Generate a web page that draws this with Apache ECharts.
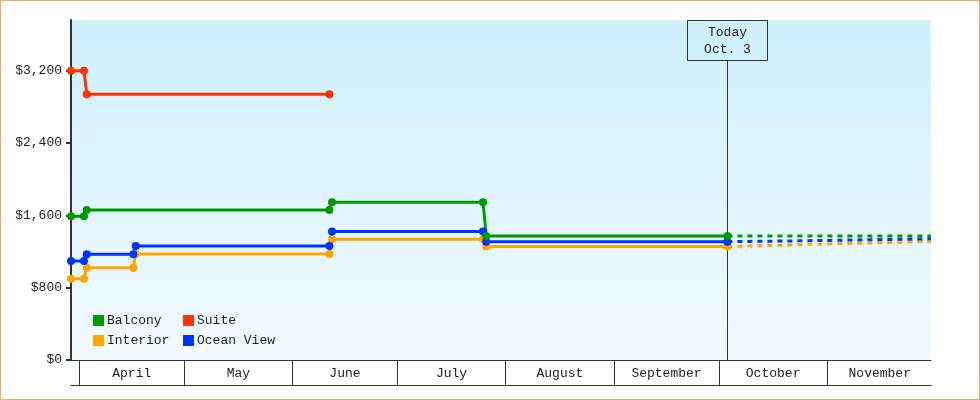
<!DOCTYPE html>
<html>
<head>
<meta charset="utf-8">
<script src="https://cdn.jsdelivr.net/npm/echarts@6/dist/echarts.min.js"></script>
<style>
  html, body { margin: 0; padding: 0; background: #ffffff; }
  #chart { width: 980px; height: 400px; }
</style>
</head>
<body>
<div id="chart"></div>
<script>
// ---------- data ----------
const monthLabels = ['April', 'May', 'June', 'July', 'August', 'September', 'October', 'November'];
const monthStartDates = ['2023-04-01', '2023-05-01', '2023-06-01', '2023-07-01', '2023-08-01', '2023-09-01', '2023-10-01', '2023-11-01', '2023-12-01'];
const axisStart = '2023-03-29 15:00';
const axisEnd = '2023-11-30 16:00';
const todayDate = '2023-10-03 10:00';
const todayLabel = 'Today\nOct. 3';

const yTicks = [0, 800, 1600, 2400, 3200];

const balconyDates = ['2023-03-29 15:00', '2023-04-02 08:00', '2023-04-03 03:00', '2023-06-11 13:00', '2023-06-12 07:00', '2023-07-25 12:00', '2023-07-26 10:00', '2023-10-03 10:00'];
const balconyValues = [1589, 1589, 1660, 1660, 1745, 1745, 1372, 1372];

const suiteDates = ['2023-03-29 15:00', '2023-04-02 08:00', '2023-04-03 03:00', '2023-06-11 13:00'];
const suiteValues = [3199, 3199, 2940, 2940];

const interiorDates = ['2023-03-29 15:00', '2023-04-02 08:00', '2023-04-03 03:00', '2023-04-16 11:00', '2023-04-17 03:00', '2023-06-11 13:00', '2023-06-12 07:00', '2023-07-25 12:00', '2023-07-26 10:00', '2023-10-03 10:00'];
const interiorValues = [899, 899, 1019, 1019, 1172, 1172, 1335, 1335, 1254, 1254];

const oceanDates = interiorDates;
const oceanValues = [1095, 1095, 1169, 1169, 1262, 1262, 1420, 1420, 1309, 1309];

const forecastDates = ['2023-10-03 10:00', '2023-10-20', '2023-11-05', '2023-11-20', '2023-11-30 16:00'];
const balconyForecast = [1372, 1372, 1372, 1372, 1372];
const interiorForecast = [1254, 1270, 1288, 1300, 1313];
const oceanForecast = [1309, 1316, 1325, 1334, 1341];

// ---------- helpers ----------
const ts = s => new Date(s.length === 10 ? s + 'T00:00' : s.replace(' ', 'T')).getTime();
const pairs = (d, v) => d.map((x, i) => [ts(x), v[i]]);
const monthStarts = monthStartDates.map(ts);
const monthTicks = monthStarts.slice(0, monthLabels.length);
const monthMids = monthLabels.map((m, i) => (monthStarts[i] + monthStarts[i + 1]) / 2);

const FONT = '"Liberation Mono", "DejaVu Sans Mono", monospace';
const colors = { Balcony: '#009900', Suite: '#ff3300', Interior: '#ffa500', 'Ocean View': '#0033ff' };

function solid(name, d, v) {
  return {
    name, type: 'line', data: pairs(d, v),
    symbol: 'circle', symbolSize: 8, showAllSymbol: true,
    lineStyle: { width: 3, color: colors[name] },
    itemStyle: { color: colors[name] },
    z: 3
  };
}
function dashed(name, d, v) {
  return {
    name, type: 'line', data: pairs(d, v),
    symbol: 'none', showSymbol: false,
    lineStyle: { width: 3, color: colors[name], type: [5, 5], cap: 'butt' },
    itemStyle: { color: colors[name] },
    z: 2
  };
}

const chart = echarts.init(document.getElementById('chart'), null, { renderer: 'canvas' });

const legendCommon = {
  orient: 'vertical', top: 314, padding: 0,
  itemWidth: 11, itemHeight: 11, itemGap: 7, icon: 'rect', selectedMode: false,
  textStyle: { fontFamily: FONT, fontSize: 13, color: '#222', padding: [0, 0, 0, -2] }
};

const option = {
  animation: false,
  backgroundColor: '#ffffff',
  textStyle: { fontFamily: FONT },
  grid: {
    left: 71, right: 49, top: 20, bottom: 40,
    show: true, borderWidth: 0,
    backgroundColor: {
      type: 'linear', x: 0, y: 0, x2: 0, y2: 1,
      colorStops: [{ offset: 0, color: '#cdf0fc' }, { offset: 1, color: '#f2faff' }]
    }
  },
  legend: [
    Object.assign({}, legendCommon, { data: ['Balcony', 'Interior'], left: 93 }),
    Object.assign({}, legendCommon, { data: ['Suite', 'Ocean View'], left: 183 })
  ],
  xAxis: [
    {
      type: 'value', min: ts(axisStart), max: ts(axisEnd),
      axisLine: { show: true, onZero: false, lineStyle: { color: '#333', width: 1 } },
      axisTick: { show: true, customValues: monthTicks, length: 25, inside: false, lineStyle: { color: '#333', width: 1 } },
      axisLabel: {
        show: true, customValues: monthMids, margin: 7,
        fontFamily: FONT, fontSize: 13, color: '#222',
        formatter: function (val) {
          for (let i = 0; i < monthLabels.length; i++) {
            if (val >= monthStarts[i] && val < monthStarts[i + 1]) return monthLabels[i];
          }
          return '';
        }
      },
      splitLine: { show: false }, minorTick: { show: false }
    },
    {
      type: 'value', min: ts(axisStart), max: ts(axisEnd), position: 'bottom', offset: 25,
      axisLine: { show: true, onZero: false, lineStyle: { color: '#333', width: 1 } },
      axisTick: { show: false }, axisLabel: { show: false }, splitLine: { show: false }
    }
  ],
  yAxis: {
    type: 'value', min: 0, max: 3760,
    axisLine: { show: true, onZero: false, lineStyle: { color: '#333', width: 2 } },
    axisTick: { show: true, customValues: yTicks, length: 5, lineStyle: { color: '#333', width: 2 } },
    axisLabel: {
      customValues: yTicks, margin: 9, fontFamily: FONT, fontSize: 13, color: '#222',
      formatter: v => '$' + v.toLocaleString('en-US')
    },
    splitLine: { show: false }
  },
  graphic: [
    { type: 'rect', shape: { x: 0.5, y: 0.5, width: 979, height: 399 }, style: { fill: 'none', stroke: '#eaa865', lineWidth: 1 }, z: 100, silent: true }
  ],
  series: [
    {
      name: 'today', type: 'custom', coordinateSystem: 'cartesian2d', z: 1, silent: true,
      data: [[ts(todayDate), 0]],
      encode: { x: 0, y: 1 },
      renderItem: function (params, api) {
        const p = api.coord([api.value(0), 0]);
        const x = Math.round(p[0]) + 0.5;
        const top = params.coordSys.y;
        const boxW = 80, boxH = 40;
        return {
          type: 'group',
          children: [
            { type: 'line', shape: { x1: x, y1: top + boxH, x2: x, y2: p[1] }, style: { stroke: '#333', lineWidth: 1 } },
            { type: 'rect', shape: { x: x - boxW / 2, y: top + 0.5, width: boxW, height: boxH }, style: { fill: 'rgba(0,0,0,0)', stroke: '#333', lineWidth: 1 } },
            { type: 'text', style: { text: todayLabel, x: x, y: top + boxH / 2 + 1.5, align: 'center', verticalAlign: 'middle', font: '13px ' + FONT, fill: '#222', lineHeight: 17 } }
          ]
        };
      }
    },
    dashed('Interior', forecastDates, interiorForecast),
    dashed('Ocean View', forecastDates, oceanForecast),
    dashed('Balcony', forecastDates, balconyForecast),
    solid('Interior', interiorDates, interiorValues),
    solid('Ocean View', oceanDates, oceanValues),
    solid('Suite', suiteDates, suiteValues),
    solid('Balcony', balconyDates, balconyValues)
  ]
};
chart.setOption(option);
</script>
</body>
</html>
